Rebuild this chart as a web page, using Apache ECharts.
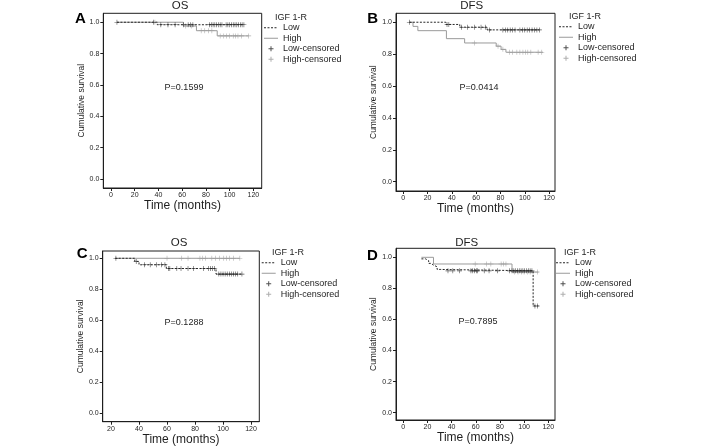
<!DOCTYPE html>
<html><head><meta charset="utf-8">
<script src="https://cdn.jsdelivr.net/npm/echarts@6/dist/echarts.min.js"></script>
<style>html,body{margin:0;padding:0;background:#fff}#c{width:708px;height:447px}</style>
</head><body><div id="c"></div>
<script>
// ---------- DATA ----------
const seriesNames = ['Low', 'High', 'Low-censored', 'High-censored'];
const panelTitles = ['OS', 'DFS', 'OS', 'DFS'];
const panelLetters = ['A', 'B', 'C', 'D'];
const pValues = ['P=0.1599', 'P=0.0414', 'P=0.1288', 'P=0.7895'];
const legendTitle = 'IGF 1-R';
const xAxisTitle = 'Time (months)';
const yAxisTitle = 'Cumulative survival';
const yTicks = [0, 0.2, 0.4, 0.6, 0.8, 1.0];
const xTicksFrom0 = [0, 20, 40, 60, 80, 100, 120];
const xTicksFrom20 = [20, 40, 60, 80, 100, 120];

// Panel A (OS)
const aLowTimes = [5, 39, 112];
const aLowSurv = [1.0, 0.984, 0.984];
const aHighTimes = [5, 61, 72, 89.5, 116];
const aHighSurv = [1.0, 0.976, 0.946, 0.913, 0.913];
const aLowCensored = [5, 36, 42, 48, 54, 61, 65, 67, 69, 83, 84.5, 86, 87.5, 89, 90.5, 92, 93.5, 97, 98.5, 100, 101.5, 103, 104.5, 106, 107.5, 109, 110.5, 112];
const aHighCensored = [37, 63, 68, 76, 79, 82, 85, 92, 95, 97.5, 100, 103, 105, 107, 110, 116];

// Panel B (DFS)
const bLowTimes = [5, 35, 46.5, 69, 112];
const bLowSurv = [1.0, 0.986, 0.969, 0.952, 0.952];
const bHighTimes = [5, 8, 12, 35.5, 50.5, 76.5, 80.5, 84.5, 115];
const bHighSurv = [1.0, 0.974, 0.947, 0.897, 0.87, 0.85, 0.83, 0.812, 0.812];
const bLowCensored = [5, 36, 37.5, 48, 53, 58.5, 64, 67.5, 71, 82, 84, 86, 88, 90, 92, 96, 98, 100, 102, 104, 106, 108, 110, 112];
const bHighCensored = [58.5, 78, 82, 87.5, 90, 93.5, 96, 98.5, 100.5, 102.5, 105, 111, 114];

// Panel C (OS)
const cLowTimes = [23, 37, 40, 59.5, 95, 113];
const cLowSurv = [1.0, 0.98, 0.958, 0.934, 0.898, 0.898];
const cHighTimes = [23, 112];
const cHighSurv = [1.0, 1.0];
const cLowCensored = [23.5, 38, 44, 48, 52.5, 56, 58.5, 61, 62, 67, 70, 75, 79, 86, 89.5, 91, 92.5, 94, 97, 98.5, 100, 101.5, 103, 104.5, 106, 107.5, 109, 110.5, 113.5];
const cHighCensored = [60, 70.5, 75, 83.5, 85.5, 87.5, 92, 94.5, 97.5, 100.5, 102.5, 104.5, 107.5, 112];

// Panel D (DFS)
const dLowTimes = [15, 18.5, 21, 23, 25, 28, 30.5, 107.5, 112];
const dLowSurv = [0.99, 0.978, 0.961, 0.95, 0.939, 0.922, 0.913, 0.687, 0.687];
const dHighTimes = [15, 25, 90, 112];
const dHighSurv = [1.0, 0.957, 0.905, 0.905];
const dLowCensored = [37, 41, 46.5, 56, 57.5, 59, 60.5, 61.5, 67, 71, 78, 88, 90, 91.5, 93, 94.5, 96, 97.5, 99, 100.5, 102, 103.5, 105, 106.5, 109, 111];
const dHighCensored = [59.5, 69, 72.5, 81, 83, 85, 92, 95, 98, 100, 103, 105, 111];

// ---------- HELPERS ----------
function stepPoints(T, S) { return T.map((t, i) => [t, S[i]]); }
function survAt(T, S, t) { let s = S[0]; for (let i = 0; i < T.length; i++) { if (T[i] <= t) s = S[i]; } return s; }
function censorPoints(C, T, S) { return C.map(c => [c, survAt(T, S, c)]); }

const panelData = [
  { lowT: aLowTimes, lowS: aLowSurv, highT: aHighTimes, highS: aHighSurv, lowC: aLowCensored, highC: aHighCensored, xTicks: xTicksFrom0 },
  { lowT: bLowTimes, lowS: bLowSurv, highT: bHighTimes, highS: bHighSurv, lowC: bLowCensored, highC: bHighCensored, xTicks: xTicksFrom0 },
  { lowT: cLowTimes, lowS: cLowSurv, highT: cHighTimes, highS: cHighSurv, lowC: cLowCensored, highC: cHighCensored, xTicks: xTicksFrom20 },
  { lowT: dLowTimes, lowS: dLowSurv, highT: dHighTimes, highS: dHighSurv, lowC: dLowCensored, highC: dHighCensored, xTicks: xTicksFrom0 }
];

// ---------- LAYOUT (pixels / styling) ----------
const layout = [
  { grid: { left: 103.3, top: 13.3, width: 158.4, height: 174.7 }, x: [-6.5, 127], y: [-0.057, 1.057], gapX: 10, gapY: 16, legend: [264, 22.7], legTitle: [275, 18], title: [180, 6], letter: [75, 18.5], p: [184, 88] },
  { grid: { left: 396, top: 13.3, width: 159, height: 177.7 }, x: [-6.0, 124.9], y: [-0.058, 1.056], gapX: 8, gapY: 18, legend: [559, 21.7], legTitle: [569, 17], title: [471.7, 5.5], letter: [367.3, 19.2], p: [479, 88] },
  { grid: { left: 102.7, top: 251, width: 156.6, height: 170.7 }, x: [14.07, 125.9], y: [-0.054, 1.047], gapX: 10, gapY: 16, legend: [261.7, 257.7], legTitle: [272, 253], title: [179, 242.7], letter: [76.7, 254], p: [184, 322.7] },
  { grid: { left: 396, top: 248.3, width: 159, height: 171.7 }, x: [-6.04, 125.6], y: [-0.047, 1.058], gapX: 12, gapY: 17, legend: [556, 257.7], legTitle: [564, 252.7], title: [466.7, 243.3], letter: [367, 255.8], p: [478, 321.7] }
];

const FONT = '"Liberation Sans", Arial, Helvetica, sans-serif';
const INK = '#1e1e1e';
const LOW_COLOR = '#262626';
const HIGH_COLOR = '#9a9a9a';
const PLUS = 'path://M4.4,0h1.2v10h-1.2z M0,4.4h10v1.2h-10z';
// legend icons drawn in a 14 x 6 box (tiny corner squares fix the box size)
const CORNERS = 'M0,0h0.01v0.01h-0.01z M13.99,5.99h0.01v0.01h-0.01z ';
const DASH_ICON = 'path://' + CORNERS + 'M0,2.5h2v1h-2z M3.5,2.5h2v1h-2z M7,2.5h2v1h-2z M10.5,2.5h2v1h-2z M14,2.5h0v1h0z';
const SOLID_ICON = 'path://' + CORNERS + 'M0,2.5h14v1h-14z';
const PLUS_ICON = 'path://M0,0h0.01v0.01h-0.01z M13.99,5.99h0.01v0.01h-0.01z M6.5,0.5h1v5h-1z M4.5,2.5h5v1h-5z';

const grids = [], xAxes = [], yAxes = [], series = [], legends = [], graphics = [];
layout.forEach((L, i) => {
  const D = panelData[i];
  grids.push(Object.assign({ show: true, borderColor: INK, borderWidth: 1, backgroundColor: '#fff' }, L.grid));
  xAxes.push({
    type: 'value', gridIndex: i, min: L.x[0], max: L.x[1],
    name: xAxisTitle, nameLocation: 'middle', nameGap: L.gapX,
    nameTextStyle: { fontFamily: FONT, fontSize: 12, color: INK },
    axisLine: { show: true, onZero: false, lineStyle: { color: INK, width: 1 } }, splitLine: { show: false },
    axisTick: { show: true, inside: false, length: 3, lineStyle: { color: INK, width: 1 }, customValues: D.xTicks },
    axisLabel: { fontFamily: FONT, fontSize: 7, color: INK, margin: 4, customValues: D.xTicks }
  });
  yAxes.push({
    type: 'value', gridIndex: i, min: L.y[0], max: L.y[1],
    name: yAxisTitle, nameLocation: 'middle', nameGap: L.gapY,
    nameTextStyle: { fontFamily: FONT, fontSize: 8.5, color: INK },
    axisLine: { show: true, onZero: false, lineStyle: { color: INK, width: 1 } }, splitLine: { show: false },
    axisTick: { show: true, inside: false, length: 3, lineStyle: { color: INK, width: 1 }, customValues: yTicks },
    axisLabel: { fontFamily: FONT, fontSize: 7, color: INK, margin: 4, customValues: yTicks, formatter: v => v.toFixed(1) }
  });
  series.push({
    name: seriesNames[0], type: 'line', step: 'end', xAxisIndex: i, yAxisIndex: i,
    data: stepPoints(D.lowT, D.lowS), symbol: 'none', showSymbol: false, z: 4,
    lineStyle: { color: LOW_COLOR, width: 1, type: [2, 1.5] }, itemStyle: { color: LOW_COLOR }
  });
  series.push({
    name: seriesNames[1], type: 'line', step: 'end', xAxisIndex: i, yAxisIndex: i,
    data: stepPoints(D.highT, D.highS), symbol: 'none', showSymbol: false, z: 3,
    lineStyle: { color: HIGH_COLOR, width: 1, type: 'solid' }, itemStyle: { color: HIGH_COLOR }
  });
  series.push({
    name: seriesNames[2], type: 'scatter', xAxisIndex: i, yAxisIndex: i,
    data: censorPoints(D.lowC, D.lowT, D.lowS), symbol: PLUS, symbolSize: 5, symbolKeepAspect: true, z: 6,
    itemStyle: { color: LOW_COLOR }
  });
  series.push({
    name: seriesNames[3], type: 'scatter', xAxisIndex: i, yAxisIndex: i,
    data: censorPoints(D.highC, D.highT, D.highS), symbol: PLUS, symbolSize: 5, symbolKeepAspect: true, z: 5,
    itemStyle: { color: HIGH_COLOR }
  });
  legends.push({
    orient: 'vertical', left: L.legend[0], top: L.legend[1], padding: 0,
    itemWidth: 14, itemHeight: 6, itemGap: 0.5, selectedMode: false,
    data: [
      { name: seriesNames[0], icon: DASH_ICON, itemStyle: { color: LOW_COLOR } },
      { name: seriesNames[1], icon: SOLID_ICON, itemStyle: { color: HIGH_COLOR } },
      { name: seriesNames[2], icon: PLUS_ICON, itemStyle: { color: LOW_COLOR } },
      { name: seriesNames[3], icon: PLUS_ICON, itemStyle: { color: HIGH_COLOR } }
    ],
    textStyle: { fontFamily: FONT, fontSize: 9, color: INK, lineHeight: 10 }
  });
  graphics.push({ type: 'text', x: L.legTitle[0], y: L.legTitle[1], style: { text: legendTitle, font: '9px ' + FONT, fill: INK, align: 'left', verticalAlign: 'middle' } });
  graphics.push({ type: 'text', x: L.title[0], y: L.title[1], style: { text: panelTitles[i], font: '11.5px ' + FONT, fill: INK, align: 'center', verticalAlign: 'middle' } });
  graphics.push({ type: 'text', x: L.letter[0], y: L.letter[1], style: { text: panelLetters[i], font: 'bold 15px ' + FONT, fill: '#000', align: 'left', verticalAlign: 'middle' } });
  graphics.push({ type: 'text', x: L.p[0], y: L.p[1], style: { text: pValues[i], font: '9px ' + FONT, fill: INK, align: 'center', verticalAlign: 'middle' } });
});

const chart = echarts.init(document.getElementById('c'), null, { renderer: 'canvas' });
chart.setOption({
  animation: false,
  backgroundColor: '#ffffff',
  textStyle: { fontFamily: FONT },
  grid: grids, xAxis: xAxes, yAxis: yAxes, series: series, legend: legends,
  graphic: graphics
});
</script></body></html>
